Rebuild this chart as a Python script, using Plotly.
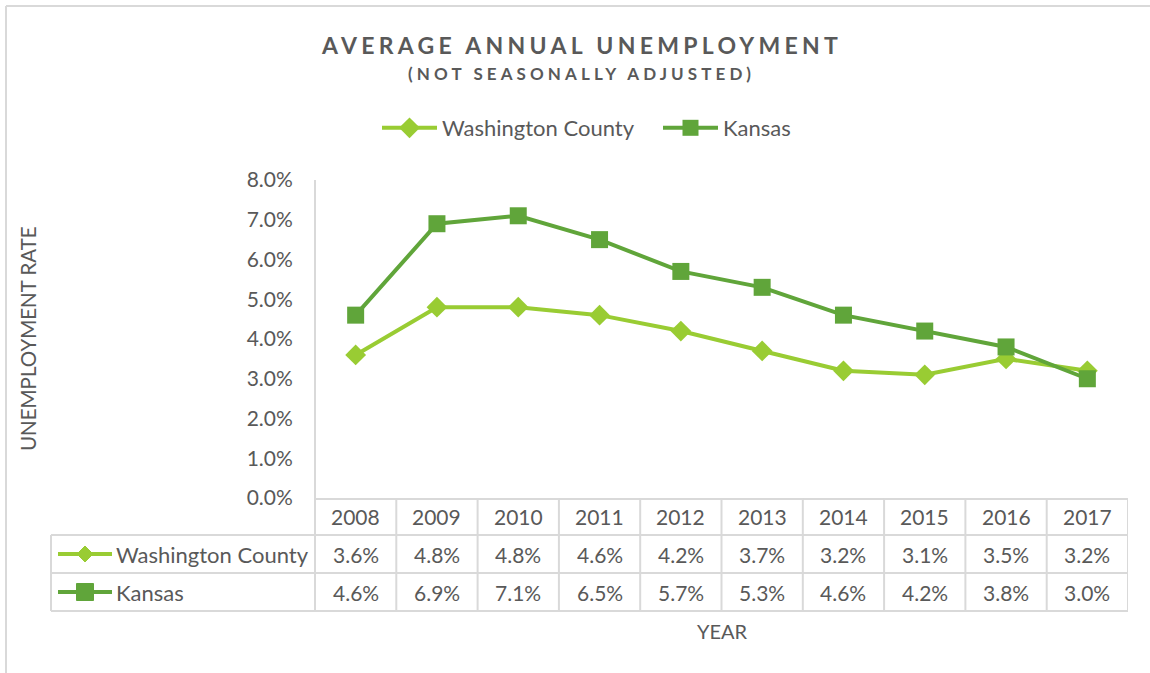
import plotly.graph_objects as go

years = ["2008", "2009", "2010", "2011", "2012", "2013", "2014", "2015", "2016", "2017"]
washington = [0.036, 0.048, 0.048, 0.046, 0.042, 0.037, 0.032, 0.031, 0.035, 0.032]
kansas = [0.046, 0.069, 0.071, 0.065, 0.057, 0.053, 0.046, 0.042, 0.038, 0.030]
series_names = ["Washington County", "Kansas"]

W, H = 1150, 673
C_WC = "#99CC33"
C_KS = "#60A53A"
GRID = "#D9D9D9"
TXT = "#595959"
FONT = "Lato"

def px(x):
    return x / W

def py(y):
    return 1 - y / H

fig = go.Figure()
fig.add_trace(go.Scatter(x=years, y=washington, name=series_names[0], mode="lines+markers",
                         line=dict(color=C_WC, width=4),
                         marker=dict(symbol="diamond", size=16, color=C_WC)))
fig.add_trace(go.Scatter(x=years, y=kansas, name=series_names[1], mode="lines+markers",
                         line=dict(color=C_KS, width=4),
                         marker=dict(symbol="square", size=17, color=C_KS)))

x0p, x1p = 315, 1128
top_p, axis_p = 180, 498
rows = [498, 535, 573, 611]

shapes = []
shapes.append(dict(type="line", xref="paper", yref="paper", x0=px(6), x1=1.0, y0=py(6), y1=py(6),
                   line=dict(color=GRID, width=2)))
shapes.append(dict(type="line", xref="paper", yref="paper", x0=px(6), x1=px(6), y0=py(6), y1=0,
                   line=dict(color=GRID, width=2)))
for r in rows[1:]:
    shapes.append(dict(type="line", xref="paper", yref="paper", x0=px(51), x1=px(x1p), y0=py(r), y1=py(r),
                       line=dict(color=GRID, width=2)))
shapes.append(dict(type="line", xref="paper", yref="paper", x0=px(x0p), x1=px(x0p), y0=py(top_p), y1=py(rows[-1]),
                   line=dict(color=GRID, width=2)))
shapes.append(dict(type="line", xref="paper", yref="paper", x0=px(51), x1=px(51), y0=py(rows[1]), y1=py(rows[-1]),
                   line=dict(color=GRID, width=2)))
for i in range(1, len(years) + 1):
    shapes.append(dict(type="line", xref="x", yref="paper", x0=i - 0.5, x1=i - 0.5, y0=py(rows[0]), y1=py(rows[-1]),
                       line=dict(color=GRID, width=2)))

def ann(x, y, text, size, xref="paper", xanchor="center", **kw):
    return dict(x=x, y=y, xref=xref, yref="paper", text=text, showarrow=False, xanchor=xanchor,
                yanchor="middle", font=dict(size=size, color=TXT, family=FONT), **kw)

annotations = []
row_centers = [(rows[i] + rows[i + 1]) / 2 for i in range(3)]
for i, yr in enumerate(years):
    annotations.append(ann(i, py(row_centers[0]), yr, 21, xref="x"))
    annotations.append(ann(i, py(row_centers[1]), f"{washington[i]*100:.1f}%", 21, xref="x"))
    annotations.append(ann(i, py(row_centers[2]), f"{kansas[i]*100:.1f}%", 21, xref="x"))

for name, color, sym, rc in [(series_names[0], C_WC, "diamond", row_centers[1]),
                              (series_names[1], C_KS, "square", row_centers[2])]:
    shapes.append(dict(type="line", xref="paper", yref="paper", x0=px(58), x1=px(112), y0=py(rc), y1=py(rc),
                       line=dict(color=color, width=4)))
    if sym == "diamond":
        cx, cy, r = 85, rc, 8
        path = f"M {px(cx)},{py(cy-r)} L {px(cx+r)},{py(cy)} L {px(cx)},{py(cy+r)} L {px(cx-r)},{py(cy)} Z"
        shapes.append(dict(type="path", xref="paper", yref="paper", path=path, fillcolor=color,
                           line=dict(color=color, width=1)))
    else:
        cx, cy, r = 85, rc, 8.5
        shapes.append(dict(type="rect", xref="paper", yref="paper", x0=px(cx - r), x1=px(cx + r),
                           y0=py(cy - r), y1=py(cy + r), fillcolor=color, line=dict(color=color, width=1)))
    annotations.append(ann(px(114), py(rc), name, 22, xanchor="left"))

annotations.append(ann(px(581), py(45),
                       '<span style="letter-spacing:4.3px"><b>AVERAGE ANNUAL UNEMPLOYMENT</b></span>', 23))
annotations.append(ann(px(581), py(73),
                       '<span style="letter-spacing:4.1px"><b>(NOT SEASONALLY ADJUSTED)</b></span>', 17))
annotations.append(ann(px(28), py(339), "UNEMPLOYMENT RATE", 20.5, textangle=-90))
annotations.append(ann(px(722), py(631), "YEAR", 20))

fig.update_layout(
    width=W, height=H, margin=dict(l=0, r=0, t=0, b=0, pad=0, autoexpand=False),
    paper_bgcolor="white", plot_bgcolor="white",
    font=dict(family=FONT, color=TXT),
    xaxis=dict(domain=[px(x0p), px(x1p)], range=[-0.5, len(years) - 0.5], showticklabels=False,
               showgrid=False, zeroline=False, showline=True, linecolor=GRID, linewidth=2, ticks=""),
    yaxis=dict(domain=[py(axis_p), py(top_p)], range=[0, 0.08], dtick=0.01, tickformat=".1%",
               showgrid=False, zeroline=False, showline=False, ticks="outside", ticklen=17,
               tickcolor="rgba(0,0,0,0)", tickfont=dict(size=21, color=TXT, family=FONT)),
    showlegend=True,
    legend=dict(orientation="h", x=px(377), y=py(128), xanchor="left", yanchor="middle",
                font=dict(size=22, color=TXT, family=FONT), itemwidth=55, entrywidth=211,
                traceorder="normal"),
    shapes=shapes, annotations=annotations,
)

fig.write_html("out.html", config={"displayModeBar": False},
               post_script="document.body.style.margin='0';document.body.style.overflow='hidden';")
